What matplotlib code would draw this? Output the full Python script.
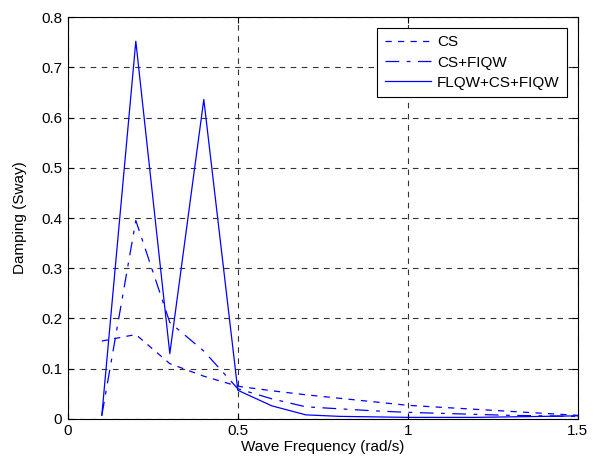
import numpy as np
import matplotlib
matplotlib.use("Agg")
import matplotlib.pyplot as plt
from matplotlib.ticker import FixedLocator

plt.rcParams['font.family'] = ['Liberation Sans', 'DejaVu Sans']

# wave frequency (rad/s)
freq = [0.1, 0.2, 0.3, 0.4, 0.5, 0.6, 0.7, 0.8, 0.9, 1.0, 1.1, 1.2, 1.3, 1.4, 1.5]

cs = [0.155, 0.168, 0.110, 0.085, 0.065, 0.056, 0.048, 0.041, 0.034, 0.027,
      0.023, 0.019, 0.015, 0.011, 0.007]
cs_fiqw = [0.007, 0.395, 0.192, 0.135, 0.060, 0.040, 0.024, 0.020, 0.016, 0.013,
           0.011, 0.009, 0.007, 0.006, 0.005]
flqw_cs_fiqw = [0.007, 0.752, 0.130, 0.636, 0.057, 0.026, 0.008, 0.005, 0.004, 0.003,
                0.003, 0.003, 0.004, 0.005, 0.006]

labels = ['CS', 'CS+FIQW', 'FLQW+CS+FIQW']

fig = plt.figure(figsize=(5.95, 4.76), dpi=100)
ax = fig.add_axes([0.114, 0.12, 0.857, 0.844])

ax.plot(freq, cs, color='#0000ff', lw=0.9, dashes=(5, 5), label=labels[0])
ax.plot(freq, cs_fiqw, color='#0000ff', lw=0.9, dashes=(11, 6, 3, 6), label=labels[1])
ax.plot(freq, flqw_cs_fiqw, color='#0000ff', lw=0.9, label=labels[2])

ax.set_xlim(0, 1.5)
ax.set_ylim(0, 0.8)
ax.xaxis.set_major_locator(FixedLocator([0, 0.5, 1, 1.5]))
ax.yaxis.set_major_locator(FixedLocator(np.arange(0, 0.81, 0.1)))
ax.set_xticklabels(['0', '0.5', '1', '1.5'])
ax.set_yticklabels(['0', '0.1', '0.2', '0.3', '0.4', '0.5', '0.6', '0.7', '0.8'])

ax.grid(True, color='#333333', linestyle=(0, (5, 5)), linewidth=0.8)
ax.tick_params(direction='in', length=4, labelsize=11, top=True, right=True, pad=4)
for s in ax.spines.values():
    s.set_linewidth(0.8)

ax.set_xlabel('Wave Frequency (rad/s)', fontsize=11, labelpad=1)
ax.set_ylabel('Damping (Sway)', fontsize=11, labelpad=10)

leg = ax.legend(loc='upper right', fontsize=11, fancybox=False, framealpha=1,
                edgecolor='k', handlelength=3.0, handletextpad=0.4,
                labelspacing=0.4, borderpad=0.5, borderaxespad=0.7)
leg.get_frame().set_linewidth(0.8)

fig.savefig('out.png', dpi=100)
